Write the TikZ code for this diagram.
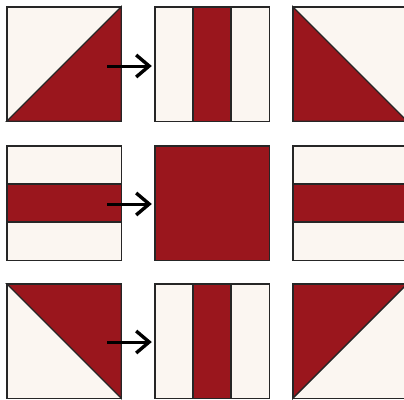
\documentclass[tikz,border=0pt]{standalone}
\usetikzlibrary{arrows.meta,calc}
\definecolor{fabric}{RGB}{154,22,29}
\definecolor{muslin}{RGB}{251,246,241}

\begin{document}
\begin{tikzpicture}[x=1pt,y=-1pt,>={Straight Barb[length=13pt,width=22pt,line width=3.4pt]},
  block/.style={minimum size=114pt,inner sep=0pt,fill=muslin},
  seam/.style={line width=1.4pt,draw=black!85},
  turn/.style={->,line width=3pt}]
  \clip (0,0) rectangle (404,399);
  % nine blocks, row r and column c
  \foreach \r/\y in {1/64,2/203,3/341}
    \foreach \c/\x in {1/64,2/212,3/350}
      \node[block] (q\r\c) at (\x,\y) {};
  % half square triangles
  \filldraw[fabric,seam] (q11.south west) -- (q11.north east) -- (q11.south east) -- cycle;
  \filldraw[fabric,seam] (q13.north west) -- (q13.south east) -- (q13.south west) -- cycle;
  \filldraw[fabric,seam] (q31.north west) -- (q31.north east) -- (q31.south east) -- cycle;
  \filldraw[fabric,seam] (q33.north west) -- (q33.north east) -- (q33.south west) -- cycle;
  % strips
  \filldraw[fabric,seam] ($(q12.north)+(-19,0)$) rectangle ($(q12.south)+(19,0)$);
  \filldraw[fabric,seam] ($(q32.north)+(-19,0)$) rectangle ($(q32.south)+(19,0)$);
  \filldraw[fabric,seam] ($(q21.west)+(0,-19)$) rectangle ($(q21.east)+(0,19)$);
  \filldraw[fabric,seam] ($(q23.west)+(0,-19)$) rectangle ($(q23.east)+(0,19)$);
  \fill[fabric] (q22.south west) rectangle (q22.north east);
  \foreach \r in {1,2,3}
    \foreach \c in {1,2,3}
      \draw[seam] (q\r\c.south west) rectangle (q\r\c.north east);
  % arrows
  \coordinate (s1) at (107,66);
  \coordinate (s2) at (107,204);
  \coordinate (s3) at (107,342);
  \foreach \r in {1,2,3}
    \draw[turn] (s\r) -- ($(s\r -| q\r2.west)+(-3,0)$);
\end{tikzpicture}
\end{document}
